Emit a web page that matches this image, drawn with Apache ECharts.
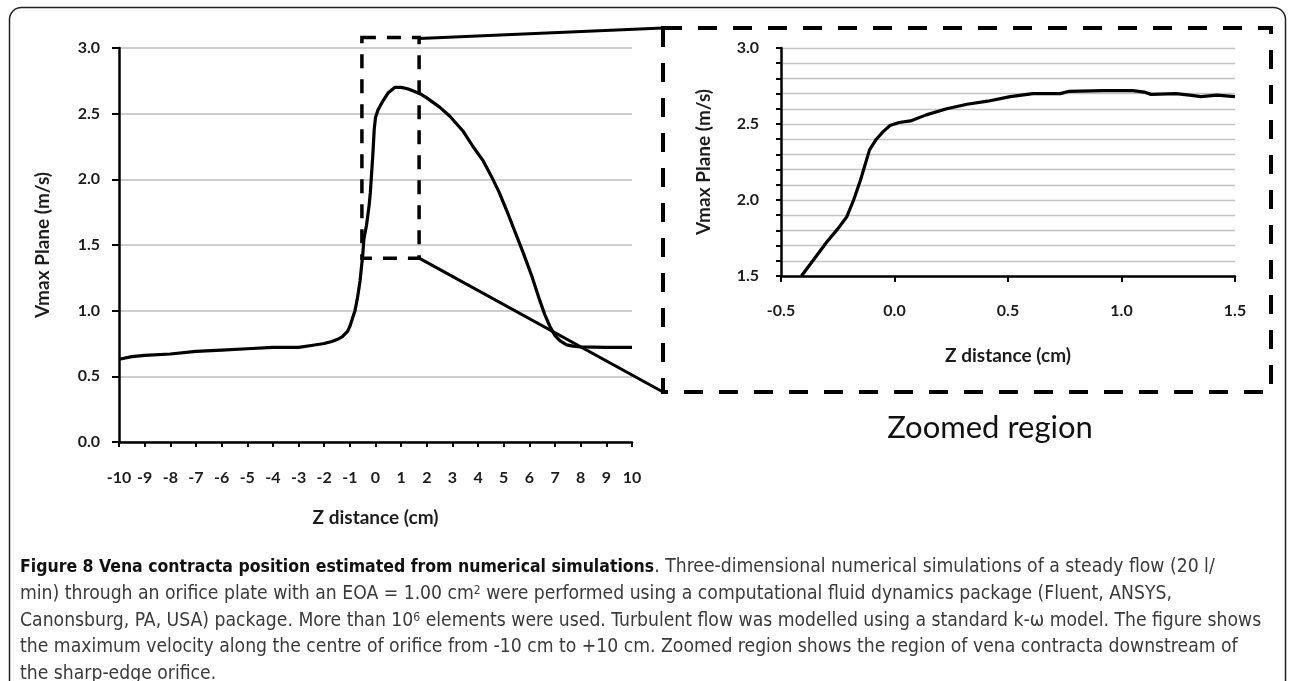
<!DOCTYPE html>
<html><head><meta charset="utf-8">
<script src="https://cdn.jsdelivr.net/npm/echarts@6/dist/echarts.min.js"></script>
<style>html,body{margin:0;padding:0;background:#fff}#c{width:1290px;height:681px}</style>
</head><body><div id="c"></div>
<script>
// Full profile: Z distance (cm) vs Vmax Plane (m/s)
const mainZ = [-10,-9.5,-9,-8,-7,-6,-5,-4,-3,-2.5,-2,-1.7,-1.5,-1.3,-1.1,-1.0,-0.9,-0.8,-0.7,-0.6,-0.5,-0.45,-0.35,-0.25,-0.2,-0.1,-0.05,0.0,0.1,0.3,0.5,0.75,1.0,1.25,1.5,1.75,2.0,2.5,2.9,3.4,3.8,4.2,4.5,4.8,5.1,5.4,5.76,6.1,6.4,6.6,6.8,7.0,7.2,7.45,7.7,8.0,9.0,10.0];
const mainV = [0.63,0.65,0.66,0.67,0.69,0.70,0.71,0.72,0.72,0.735,0.75,0.765,0.78,0.80,0.84,0.88,0.94,1.00,1.10,1.23,1.42,1.55,1.65,1.80,1.90,2.20,2.38,2.47,2.53,2.60,2.66,2.70,2.70,2.69,2.67,2.65,2.62,2.55,2.48,2.37,2.25,2.14,2.03,1.91,1.77,1.62,1.44,1.26,1.08,0.97,0.88,0.81,0.77,0.74,0.73,0.725,0.72,0.72];
// Zoomed region
const zoomZ = [-0.41,-0.35,-0.30,-0.25,-0.21,-0.18,-0.15,-0.11,-0.08,-0.05,-0.02,0.02,0.07,0.14,0.23,0.32,0.41,0.51,0.61,0.73,0.77,0.92,1.05,1.10,1.13,1.24,1.30,1.35,1.42,1.50];
const zoomV = [1.50,1.62,1.72,1.81,1.89,2.00,2.13,2.33,2.40,2.45,2.49,2.51,2.52,2.56,2.60,2.63,2.65,2.68,2.70,2.70,2.715,2.72,2.72,2.71,2.695,2.70,2.69,2.68,2.69,2.68];
// Zoom box drawn on the full profile (data coords)
const boxZ = [-0.53, 1.7];
const boxV = [1.40, 3.08];

const yTitle = 'Vmax Plane (m/s)';
const xTitle = 'Z distance (cm)';
const zoomTitle = 'Zoomed region';
const captionLines = [
  [['b','Figure 8 Vena contracta position estimated from numerical simulations'],['n','. Three-dimensional numerical simulations of a steady flow (20 l/']],
  [['n','min) through an orifice plate with an EOA = 1.00 cm'],['s','2'],['n',' were performed using a computational fluid dynamics package (Fluent, ANSYS,']],
  [['n','Canonsburg, PA, USA) package. More than 10'],['s','6'],['n',' elements were used. Turbulent flow was modelled using a standard k-ω model. The figure shows']],
  [['n','the maximum velocity along the centre of orifice from -10 cm to +10 cm. Zoomed region shows the region of vena contracta downstream of']],
  [['n','the sharp-edge orifice.']]
];

const FF = 'Lato, "Open Sans", sans-serif';
const CAPF = '"Liberation Sans Narrow", "DejaVu Sans Condensed", "Roboto Condensed", sans-serif';
const ink = '#1c1c1c';
const lbl = {fontFamily: FF, fontWeight: 'bold', fontSize: 16, color: ink};
const nm = {fontFamily: FF, fontWeight: 'bold', fontSize: 19, color: ink};

const chart = echarts.init(document.getElementById('c'), null, {renderer: 'canvas'});
const option = {
  animation: false,
  backgroundColor: '#fff',
  grid: [
    {left: 119, top: 48, width: 513, height: 394},
    {left: 781, top: 48, width: 454, height: 228}
  ],
  xAxis: [
    {gridIndex: 0, type: 'value', min: -10, max: 10, interval: 1,
     axisLine: {onZero: false, lineStyle: {color: '#000', width: 2.5}},
     axisTick: {length: 5, lineStyle: {color: '#000', width: 2}},
     axisLabel: Object.assign({margin: 28}, lbl),
     splitLine: {show: false},
     name: xTitle, nameLocation: 'middle', nameGap: 66, nameTextStyle: nm},
    {gridIndex: 1, type: 'value', min: -0.5, max: 1.5, interval: 0.5,
     axisLine: {onZero: false, lineStyle: {color: '#000', width: 2.5}},
     axisTick: {length: 6, lineStyle: {color: '#000', width: 2}},
     axisLabel: Object.assign({margin: 27, formatter: v => v.toFixed(1)}, lbl),
     splitLine: {show: false},
     name: xTitle, nameLocation: 'middle', nameGap: 70, nameTextStyle: nm}
  ],
  yAxis: [
    {gridIndex: 0, type: 'value', min: 0, max: 3, interval: 0.5,
     axisLine: {show: true, onZero: false, lineStyle: {color: '#000', width: 2.5}},
     axisTick: {show: true, length: 7, lineStyle: {color: '#000', width: 2}},
     axisLabel: Object.assign({margin: 19, formatter: v => v.toFixed(1)}, lbl),
     splitLine: {show: true, lineStyle: {color: '#bdbdbd', width: 1.6}},
     name: yTitle, nameLocation: 'middle', nameRotate: 90, nameGap: 67, nameTextStyle: nm},
    {gridIndex: 1, type: 'value', min: 1.5, max: 3.0, interval: 0.1,
     axisLine: {show: true, onZero: false, lineStyle: {color: '#000', width: 2.5}},
     axisTick: {show: true, length: 5, lineStyle: {color: '#000', width: 2}},
     axisLabel: Object.assign({margin: 22, formatter: v => (Math.abs(v * 2 - Math.round(v * 2)) < 1e-6 ? v.toFixed(1) : '')}, lbl),
     splitLine: {show: true, lineStyle: {color: '#c4c4c4', width: 1.4}},
     name: yTitle, nameLocation: 'middle', nameRotate: 90, nameGap: 68, nameTextStyle: nm}
  ],
  series: [
    {type: 'line', xAxisIndex: 0, yAxisIndex: 0, showSymbol: false, symbol: 'none',
     data: mainZ.map((z, i) => [z, mainV[i]]), lineStyle: {color: '#000', width: 3.2}, z: 5},
    {type: 'line', xAxisIndex: 1, yAxisIndex: 1, showSymbol: false, symbol: 'none', clip: true,
     data: zoomZ.map((z, i) => [z, zoomV[i]]), lineStyle: {color: '#000', width: 3.2}, z: 5}
  ]
};
chart.setOption(option);

const tl = chart.convertToPixel({xAxisIndex: 0, yAxisIndex: 0}, [boxZ[0], boxV[1]]);
const br = chart.convertToPixel({xAxisIndex: 0, yAxisIndex: 0}, [boxZ[1], boxV[0]]);
const bigBox = {x0: 663, y0: 28, x1: 1271, y1: 392};

function capText(parts, y) {
  let text = parts.map(p => '{' + p[0] + '|' + p[1] + '}').join('');
  return {type: 'text', x: 20, y: y, silent: true,
    style: {text: text, fill: '#333', font: '19px ' + CAPF, textVerticalAlign: 'middle',
      rich: {
        b: {fontFamily: CAPF, fontWeight: 'bold', fontSize: 17.5, fill: '#111', color: '#111'},
        n: {fontFamily: CAPF, fontSize: 19.2, fill: '#3a3a3a', color: '#3a3a3a'},
        s: {fontFamily: CAPF, fontSize: 12, fill: '#3a3a3a', color: '#3a3a3a', verticalAlign: 'top'}
      }}};
}
const capY = [567, 594, 621, 647, 674];
const graphics = [
  {type: 'rect', silent: true, shape: {x: 9.5, y: 7.5, width: 1276, height: 720, r: 12},
   style: {fill: 'none', stroke: '#222', lineWidth: 1.5}},
  {type: 'rect', silent: true, z: 10, shape: {x: tl[0], y: tl[1], width: br[0] - tl[0], height: br[1] - tl[1]},
   style: {fill: 'none', stroke: '#000', lineWidth: 3.5, lineDash: [14, 11]}},
  {type: 'rect', silent: true, z: 10, shape: {x: bigBox.x0, y: bigBox.y0, width: bigBox.x1 - bigBox.x0, height: bigBox.y1 - bigBox.y0},
   style: {fill: 'none', stroke: '#000', lineWidth: 4, lineDash: [19, 16], lineDashOffset: 0}},
  {type: 'line', silent: true, z: 10, shape: {x1: br[0], y1: tl[1] + 1, x2: bigBox.x0, y2: bigBox.y0},
   style: {stroke: '#000', lineWidth: 3}},
  {type: 'line', silent: true, z: 10, shape: {x1: br[0], y1: br[1], x2: bigBox.x0, y2: bigBox.y1},
   style: {stroke: '#000', lineWidth: 3}},
  {type: 'text', silent: true, x: 990, y: 428,
   style: {text: zoomTitle, font: '31px ' + FF, fill: '#111', textAlign: 'center', textVerticalAlign: 'middle'}}
];
captionLines.forEach((l, i) => graphics.push(capText(l, capY[i])));
chart.setOption({graphic: graphics});
</script></body></html>
